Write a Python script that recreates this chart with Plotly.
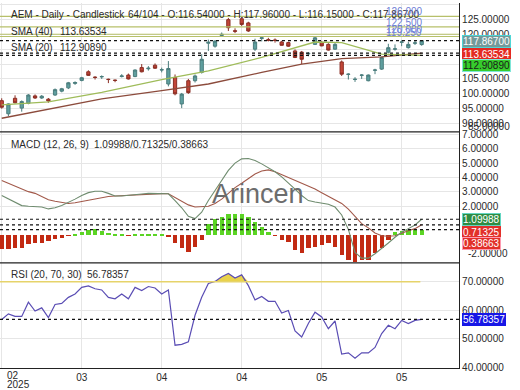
import plotly.graph_objects as go
from plotly.subplots import make_subplots

# ---------------- data ----------------
idx = list(range(64))
open_ = [97.7, 93.3, 98.5, 95.2, 96.8, 99.3, 98.6, 98.2, 99.6, 100.9,
         102.0, 103.5, 104.5, 107.4, 105.6, 105.7, 104.9, 104.6, 105.8, 106.3,
         105.8, 108.8, 108.4, 109.6, 108.0, 103.3, 105.5, 96.6, 104.4, 104.4,
         107.2, 117.0, 116.0, 119.6, 124.9, 121.2, 125.2, 123.8, 115.0, 118.6,
         118.2, 118.1, 117.4, 117.2, 114.4, 114.0, 113.4, 116.6, 117.2, 116.6,
         115.0, 110.7, 106.5, 104.8, 106.2, 104.4, 107.9, 108.3, 114.0, 115.0,
         117.3, 115.5, 117.0, 116.54]
high = [98.5, 96.8, 99.5, 97.8, 99.9, 99.8, 99.6, 98.6, 101.8, 102.0,
        104.0, 104.2, 105.7, 107.9, 105.9, 106.2, 105.1, 104.8, 106.6, 106.8,
        108.2, 110.0, 109.3, 110.2, 108.8, 111.0, 106.5, 100.3, 105.0, 106.5,
        113.3, 118.2, 118.0, 120.6, 125.5, 122.0, 126.0, 124.2, 118.5, 119.0,
        118.8, 118.6, 117.8, 117.5, 114.9, 114.4, 114.0, 119.4, 117.8, 117.0,
        117.2, 111.2, 106.9, 105.6, 106.6, 106.5, 108.4, 112.5, 116.8, 116.6,
        118.0, 117.5, 117.8, 117.96]
low = [95.0, 92.5, 96.8, 94.0, 96.5, 98.3, 98.3, 97.0, 99.3, 100.5,
       101.6, 103.0, 104.2, 106.0, 104.8, 105.0, 103.6, 103.9, 105.5, 104.8,
       105.6, 107.2, 107.8, 108.4, 107.2, 102.5, 99.5, 95.2, 100.0, 103.8,
       106.8, 114.4, 115.5, 119.2, 121.1, 120.4, 122.8, 120.8, 114.4, 117.6,
       117.6, 117.2, 116.2, 115.8, 112.0, 110.0, 112.6, 116.4, 116.0, 114.5,
       114.8, 106.0, 104.8, 104.0, 105.0, 104.2, 106.6, 108.0, 113.6, 114.5,
       116.0, 115.2, 116.4, 116.15]
close = [95.5, 96.6, 97.0, 97.4, 99.6, 98.6, 99.2, 97.6, 101.4, 101.7,
         103.7, 103.8, 105.4, 106.2, 105.5, 105.8, 104.8, 104.5, 106.0, 105.0,
         108.0, 107.4, 108.6, 108.6, 108.1, 108.5, 100.0, 99.9, 100.4, 106.0,
         111.6, 117.3, 117.7, 120.0, 122.2, 121.0, 123.3, 121.1, 117.4, 118.8,
         118.0, 117.9, 116.3, 116.0, 112.2, 111.6, 113.6, 118.8, 116.1, 114.7,
         116.6, 106.6, 106.6, 104.9, 106.3, 106.3, 108.0, 112.2, 115.5, 115.1,
         117.4, 116.6, 117.1, 117.867]

sma20_idx = [0, 7, 15, 24, 31, 39, 47, 51, 57, 63]
sma20_val = [96.3, 97.3, 100.5, 104.8, 107.7, 112.2, 117.4, 117.2, 113.3, 112.90890]
sma40_idx = [0, 15, 24, 31, 39, 45, 51, 57, 63]
sma40_val = [91.8, 98.3, 101.1, 103.3, 107.2, 110.0, 111.8, 112.4, 113.63534]

levels = [126.0, 122.5, 120.0, 119.25]

macd = [2.75, 2.5, 2.25, 2.05, 2.0, 1.97, 1.95, 1.82, 1.9, 2.05,
        2.25, 2.5, 2.75, 2.95, 3.05, 3.05, 2.9, 2.72, 2.72, 2.78,
        2.82, 2.86, 2.9, 2.9, 2.88, 2.87, 2.4, 1.9, 1.3, 1.15,
        1.59, 2.4, 3.1, 3.8, 4.5, 5.0, 5.3, 5.32, 5.18, 4.95,
        4.7, 4.4, 4.05, 3.65, 3.2, 2.75, 2.4, 2.3, 2.22, 2.15,
        1.95, 1.4, 0.4, -1.2, -1.6, -1.6, -1.3, -0.95, -0.55, -0.15,
        0.2, 0.45, 0.7, 1.09988]
signal = [3.79, 3.6, 3.4, 3.2, 3.02, 2.9, 2.7, 2.45, 2.35, 2.25,
          2.2, 2.25, 2.33, 2.42, 2.52, 2.62, 2.68, 2.72, 2.75, 2.78,
          2.81, 2.83, 2.85, 2.87, 2.88, 2.87, 2.6, 2.35, 2.1, 1.95,
          1.96, 2.0, 2.2, 2.5, 2.9, 3.3, 3.6, 3.95, 4.25, 4.45,
          4.53, 4.4, 4.2, 4.05, 3.85, 3.6, 3.4, 3.2, 2.95, 2.7,
          2.5, 2.2, 1.8, 1.3, 0.8, 0.5, 0.15, -0.05, -0.08, -0.05,
          0.15, 0.3, 0.45, 0.71325]
hist = [-0.99, -0.99, -0.88, -0.88, -0.64, -0.53, -0.53, -0.41, -0.30, -0.19,
        -0.05, 0.1, 0.25, 0.35, 0.4, 0.3, 0.15, 0.05, 0.04, -0.02,
        0.04, 0.05, 0.05, 0.04, 0.03, -0.1, -0.57, -0.9, -1.15, -0.8,
        -0.35, 0.8, 1.15, 1.27, 1.5, 1.45, 1.45, 1.27, 0.92, 0.55,
        0.2, -0.05, -0.35, -0.45, -1.0, -1.25, -0.9, -0.8, -0.7, -0.57,
        -0.8, -1.4, -1.72, -1.85, -1.72, -1.72, -1.25, -0.9, -0.35, 0.2,
        0.3, 0.35, 0.4, 0.38663]

rsi = [56.7, 58.7, 57.8, 57.8, 62.8, 59.7, 60.8, 57.4, 62.0, 62.4,
       64.5, 65.7, 68.0, 68.5, 67.5, 67.1, 64.5, 64.0, 65.7, 64.0,
       68.0, 66.9, 68.3, 67.8, 65.7, 67.1, 47.7, 48.0, 48.9, 58.2,
       64.5, 69.4, 70.1, 71.7, 72.9, 71.3, 72.4, 68.6, 63.6, 64.8,
       63.1, 63.1, 59.0, 59.9, 52.7, 50.6, 55.3, 59.3, 57.6, 53.5,
       56.2, 44.6, 45.0, 43.1, 45.0, 45.0, 46.9, 51.8, 54.7, 53.5,
       56.4, 55.3, 56.4, 56.78357]

tick_pos = [0, 12, 24, 36, 48, 60]
tick_txt = ["", "03", "04", "04", "05", "05"]
first_month, first_year = "02", "2025"

title_left = "AEM - Daily - Candlestick"
title_right = "64/104 - O:116.54000 - H:117.96000 - L:116.15000 - C:117.86700"

# ---------------- figure ----------------
FONT = "Liberation Sans, Arial, sans-serif"
W, H = 520, 390
ML, MR, MT, MB = 0, 61, 0, 22
PW, PH = W - ML - MR, H - MT - MB
d_main = [1 - 130 / PH, 1]
d_macd = [1 - 262 / PH, 1 - 130 / PH]
d_rsi = [0, 1 - 262 / PH]

fig = make_subplots(rows=3, cols=1, shared_xaxes=True, vertical_spacing=0)

fig.add_trace(go.Scatter(x=sma40_idx, y=sma40_val, mode="lines",
                         line=dict(color="#8c4b3c", width=1.3), hoverinfo="skip"), 1, 1)
fig.add_trace(go.Scatter(x=sma20_idx, y=sma20_val, mode="lines",
                         line=dict(color="#9fbc5a", width=1.3), hoverinfo="skip"), 1, 1)
fig.add_trace(go.Candlestick(x=idx, open=open_, high=high, low=low, close=close,
                             increasing=dict(fillcolor="#5f9f9f", line=dict(color="#4b7d7d", width=1)),
                             decreasing=dict(fillcolor="#c24638", line=dict(color="#8a2e24", width=1)),
                             whiskerwidth=0), 1, 1)

hist_col = ["#5bd424" if v >= 0 else "#c22a12" for v in hist]
fig.add_trace(go.Bar(x=idx, y=hist, marker=dict(color=hist_col, line=dict(width=0)),
                     width=0.65), 2, 1)
fig.add_trace(go.Scatter(x=idx, y=signal, mode="lines",
                         line=dict(color="#a2594a", width=1.1)), 2, 1)
fig.add_trace(go.Scatter(x=idx, y=macd, mode="lines",
                         line=dict(color="#6f8c6f", width=1.1)), 2, 1)

rsi_top = [max(v, 70) for v in rsi]
fig.add_trace(go.Scatter(x=idx, y=[70] * len(idx), mode="lines",
                         line=dict(width=0), hoverinfo="skip"), 3, 1)
fig.add_trace(go.Scatter(x=idx, y=rsi_top, mode="lines", fill="tonexty",
                         fillcolor="#e9d24c", line=dict(width=0), hoverinfo="skip"), 3, 1)
fig.add_trace(go.Scatter(x=idx, y=rsi, mode="lines",
                         line=dict(color="#5a4db4", width=1.2)), 3, 1)

shapes = []
for lv in levels:
    shapes.append(dict(type="line", xref="paper", yref="y", x0=0, x1=1, y0=lv, y1=lv,
                       line=dict(color="#b7c06a", width=1.2)))
for v in [close[-1], sma40_val[-1], sma20_val[-1]]:
    shapes.append(dict(type="line", xref="paper", yref="y", x0=0, x1=1, y0=v, y1=v,
                       line=dict(color="#111", width=1.3, dash="dot")))
for v in [macd[-1], signal[-1], hist[-1]]:
    shapes.append(dict(type="line", xref="paper", yref="y2", x0=0, x1=1, y0=v, y1=v,
                       line=dict(color="#111", width=1.2, dash="dot")))
shapes.append(dict(type="line", xref="x3", yref="y3", x0=-0.26, x1=62.8, y0=70, y1=70,
                   line=dict(color="#e6d36a", width=1.5)))
shapes.append(dict(type="line", xref="paper", yref="y3", x0=0, x1=1, y0=rsi[-1], y1=rsi[-1],
                   line=dict(color="#111", width=1.2, dash="dot")))
for yy in [d_macd[1], d_rsi[1]]:
    shapes.append(dict(type="line", xref="paper", yref="paper", x0=0, x1=1, y0=yy, y1=yy,
                       line=dict(color="#222", width=1.2)))

def px(xp):
    return xp / PW

def py(yp):
    return 1 - yp / PH

ann = []
def txt(x, y, s, size=10, color="#2a2a2a", anchor="left"):
    ann.append(dict(xref="paper", yref="paper", x=px(x), y=py(y), text=s, showarrow=False,
                    xanchor=anchor, yanchor="middle", font=dict(family=FONT, size=size, color=color)))

txt(9, 12, title_left)
txt(126, 12, title_right)
txt(9, 29, "SMA (40)")
txt(58, 29, f"{sma40_val[-1]:.5f}")
txt(9, 45, "SMA (20)")
txt(58, 45, f"{sma20_val[-1]:.5f}")
txt(9, 143, "MACD (12, 26, 9)")
txt(92, 143, f"{macd[-1]:.5f}/{signal[-1]:.5f}/{hist[-1]:.5f}")
txt(9, 274, "RSI (20, 70, 30)")
txt(85, 274, f"{rsi[-1]:.5f}")
txt(258, 193, "Arincen", size=27, color="#6c6c6c", anchor="center")
txt(13, 375.5, first_month, anchor="center")
txt(5, 384.5, first_year)
txt(PW + 7, 125, "85.00000")
txt(PW + 7, 253, "-2.00000")

for lv in levels:
    ann.append(dict(xref="paper", yref="y", x=px(404), y=lv, text=f"{lv:.3f}",
                    showarrow=False, xanchor="center", yanchor="bottom", yshift=-3,
                    font=dict(family=FONT, size=10, color="#6f7fd6")))

def box(yref, v, s, bg, fg, border, shift=0):
    ann.append(dict(xref="paper", yref=yref, x=1, y=v, text=s, showarrow=False,
                    xanchor="left", yanchor="middle", xshift=3, yshift=shift,
                    bgcolor=bg, bordercolor=border, borderwidth=1, borderpad=0,
                    font=dict(family=FONT, size=10, color=fg)))

box("y", close[-1], f"{close[-1]:.5f}", "#739a9a", "#ffffff", "#4fd6d6", -1)
box("y", sma40_val[-1], f"{sma40_val[-1]:.5f}", "#e42a22", "#ffffff", "#e42a22", -1.5)
box("y", sma20_val[-1], f"{sma20_val[-1]:.5f}", "#36cc2c", "#1a1a1a", "#7fe6d8", -10)
box("y2", macd[-1], f"{macd[-1]:.5f}", "#2f8c42", "#ffffff", "#63d6c2", 0)
box("y2", signal[-1], f"{signal[-1]:.5f}", "#e2302a", "#ffffff", "#e2302a", -7.3)
box("y2", hist[-1], f"{hist[-1]:.5f}", "#e2302a", "#ffffff", "#ff9ab0", -13.6)
box("y3", rsi[-1], f"{rsi[-1]:.5f}", "#1717e6", "#ffffff", "#1717e6", 0)

grid = "#e6e6e6"
yax_common = dict(side="right", showline=True, linecolor="#222", linewidth=1.2,
                  gridcolor=grid, zeroline=False, ticks="", tickformat=".5f",
                  tickfont=dict(family=FONT, size=10, color="#2a2a2a"))

fig.update_layout(
    width=W, height=H, margin=dict(l=ML, r=MR, t=MT, b=MB),
    paper_bgcolor="white", plot_bgcolor="white", showlegend=False,
    shapes=shapes, annotations=ann, bargap=0,
    yaxis=dict(domain=d_main, range=[87.2, 130.5], tickvals=[90, 95, 100, 105, 110, 115, 120, 125, 130],
               **yax_common),
    yaxis2=dict(domain=d_macd, range=[-1.93, 7.17], tickvals=[2, 3, 4, 5, 6, 7], **yax_common),
    yaxis3=dict(domain=d_rsi, range=[39.7, 76.6], tickvals=[40, 50, 60, 70], **yax_common),
)
for ax in ["xaxis", "xaxis2", "xaxis3"]:
    fig.layout[ax].update(range=[-0.26, 68.6], tickvals=tick_pos, ticktext=tick_txt,
                          showgrid=True, gridcolor=grid, zeroline=False, ticks="",
                          showticklabels=False, rangeslider=dict(visible=False))
fig.layout.xaxis3.update(showticklabels=True, showline=True, linecolor="#222", linewidth=1.2,
                         tickfont=dict(family=FONT, size=10, color="#2a2a2a"))

fig.write_html("out.html")
